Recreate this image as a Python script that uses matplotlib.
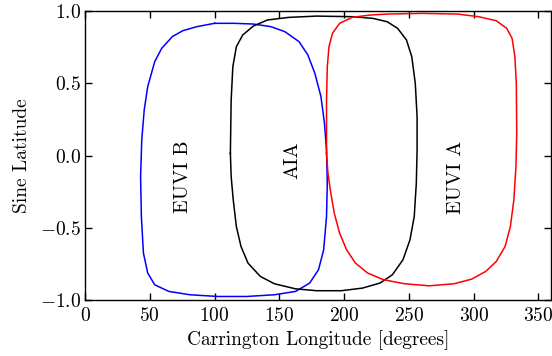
import matplotlib
matplotlib.use("Agg")
import matplotlib.pyplot as plt

# boundary points: (Carrington longitude, sine latitude)
euvib_lon = [100, 86.4, 75.5, 67.4, 59.2, 53.8, 48.4, 45.7, 43.8, 42.9, 43.5,
             45.1, 48.4, 53.8, 64.7, 81, 102.7, 124.5, 146.2, 162.5, 173.4,
             180.2, 184.2, 186.4, 187, 186.4, 184.8, 182.1, 177.4, 172, 165.2,
             154.3, 143.5, 129.9, 115, 100]
euvib_s = [0.915, 0.892, 0.864, 0.823, 0.742, 0.65, 0.477, 0.316, 0.108,
           -0.145, -0.422, -0.675, -0.813, -0.894, -0.94, -0.963, -0.975,
           -0.975, -0.963, -0.94, -0.882, -0.79, -0.652, -0.422, -0.191, 0.039,
           0.224, 0.408, 0.569, 0.696, 0.788, 0.857, 0.892, 0.91, 0.915, 0.915]

aia_lon = [112.2, 112.8, 114.1, 116.8, 121.7, 129.9, 140.8, 157.1, 178.8, 206,
           222.3, 233.2, 241.3, 248.1, 252.2, 254.9, 256.3, 256.3, 255.7,
           254.1, 250.8, 245.4, 237.2, 227.7, 214.1, 197.8, 178.8, 162.5,
           146.2, 135.3, 125.8, 120.4, 116.8, 114.4, 112.8, 112.2]
aia_s = [0.016, 0.385, 0.615, 0.753, 0.834, 0.896, 0.938, 0.956, 0.965, 0.961,
         0.949, 0.926, 0.88, 0.8, 0.684, 0.5, 0.27, 0.039, -0.191, -0.422,
         -0.583, -0.721, -0.825, -0.882, -0.917, -0.935, -0.935, -0.922,
         -0.887, -0.836, -0.744, -0.629, -0.491, -0.306, -0.145, 0.016]

euvia_lon = [186.4, 186.4, 187, 188.3, 191, 196.5, 206, 219.6, 233.2, 260.3,
             287.5, 303.8, 317.4, 325.5, 329.6, 331.8, 332.9, 333.2, 332.6,
             331, 328.3, 324.2, 317.4, 309.2, 298.4, 284.8, 265.8, 246.7,
             230.4, 218.2, 208.7, 201.9, 196.5, 192.4, 189.7, 187.5, 186.4]
euvia_s = [0.016, 0.385, 0.615, 0.753, 0.846, 0.915, 0.956, 0.972, 0.979,
           0.984, 0.979, 0.961, 0.933, 0.88, 0.811, 0.684, 0.5, 0.154, -0.076,
           -0.306, -0.491, -0.629, -0.733, -0.802, -0.855, -0.887, -0.901,
           -0.887, -0.859, -0.813, -0.744, -0.652, -0.537, -0.399, -0.26,
           -0.122, 0.016]

labels = ["EUVI B", "AIA", "EUVI A"]
label_x = [75.8, 160.3, 286]
label_y = [-0.147, -0.035, -0.15]

plt.rcParams["font.family"] = ["cmr10", "DejaVu Serif"]
plt.rcParams["mathtext.fontset"] = "cm"
plt.rcParams["axes.formatter.use_mathtext"] = True

fig = plt.figure(figsize=(5.52, 3.56), dpi=100)
ax = fig.add_axes([0.154, 0.157, 0.845, 0.812])

ax.plot(euvib_lon, euvib_s, color="blue", lw=1.1)
ax.plot(aia_lon, aia_s, color="black", lw=1.1)
ax.plot(euvia_lon, euvia_s, color="red", lw=1.1)

for t, x, y in zip(labels, label_x, label_y):
    ax.text(x, y, t, rotation=90, ha="center", va="center", fontsize=14.5)

ax.set_xlim(0, 360)
ax.set_ylim(-1, 1)
ax.set_xticks([0, 50, 100, 150, 200, 250, 300, 350])
ax.set_yticks([-1.0, -0.5, 0.0, 0.5, 1.0])
ax.tick_params(direction="in", top=True, right=True, length=5, width=1,
               labelsize=14)
ax.tick_params(axis="x", pad=5)
ax.tick_params(axis="y", pad=3)
for sp in ax.spines.values():
    sp.set_linewidth(1.0)

ax.set_xlabel("Carrington Longitude [degrees]", fontsize=14, labelpad=4)
ax.set_ylabel("Sine Latitude", fontsize=14, labelpad=6)

fig.savefig("out.png", dpi=100)
